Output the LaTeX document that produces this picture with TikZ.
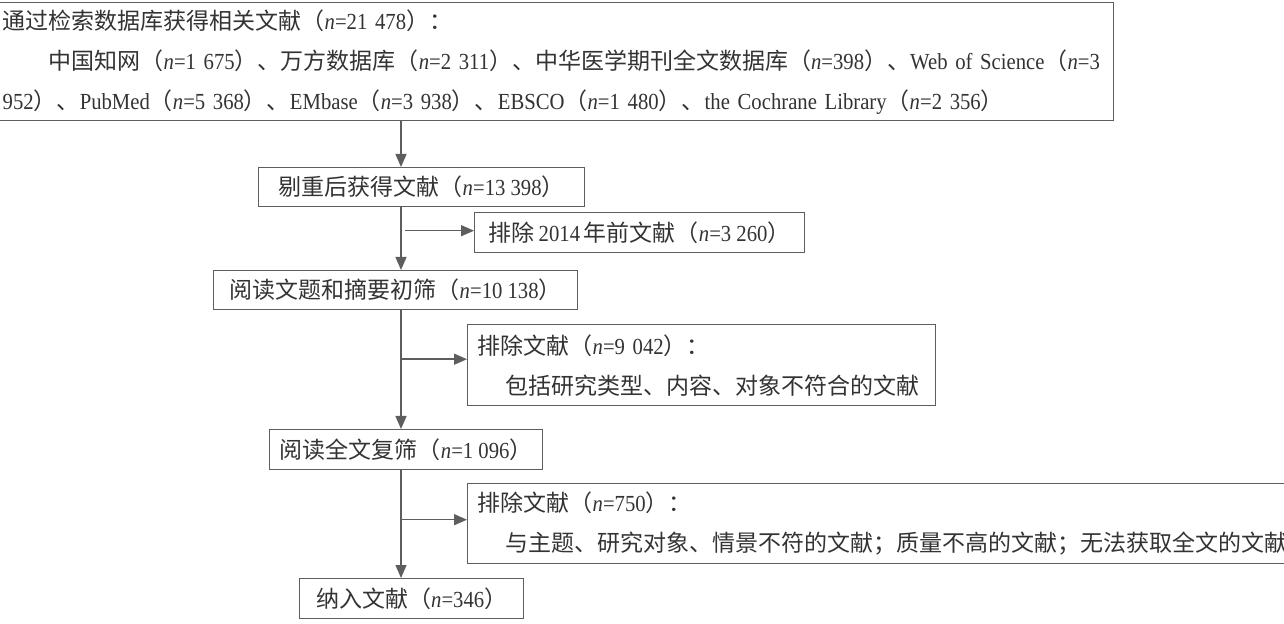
\documentclass[tikz,border=0pt]{standalone}
\usepackage{fontspec}
\setmainfont{Noto Sans CJK SC}
\newfontfamily\latin{Liberation Serif}[FakeStretch=0.9]
\usetikzlibrary{positioning, arrows.meta, calc}

\definecolor{linegray}{HTML}{5E5E5E}
\definecolor{textgray}{HTML}{333333}
\newcommand{\numn}[1]{（{\latin\textit{n}=#1}）}

\tikzset{
  box/.style={rectangle, draw=linegray, line width=0.7pt, anchor=north west, text=textgray,
    inner xsep=5pt, inner ysep=0pt, font=\fontsize{11.5pt}{20pt}\selectfont},
  arr/.style={-{Triangle[length=6.5pt,width=5.5pt]}, draw=linegray, line width=0.7pt}
}

\begin{document}
\begin{tikzpicture}[x=0.5pt, y=-0.5pt]
  \useasboundingbox (0,0) rectangle (1284,624);
  \clip (0,0) rectangle (1284,624);

  % Nodes
  \node[box, minimum height=59pt, text width=550.5pt, align=left] (search) at (-8,2)
    {通过检索数据库获得相关文献\numn{21 478}：\\
     \hspace*{2em}中国知网\numn{1 675}、万方数据库\numn{2 311}、中华医学期刊全文数据库\numn{398}、{\latin Web of Science}（{\latin\textit{n}=3}\\
     {\latin 952}）、{\latin PubMed}\numn{5 368}、{\latin EMbase}\numn{3 938}、{\latin EBSCO}\numn{1 480}、{\latin the Cochrane Library}\numn{2 356}};
  \node[box, minimum width=163pt, minimum height=19.5pt] (dedup) at (258,167) {剔重后获得文献\numn{13 398}};
  \node[box, minimum width=165pt, minimum height=20pt] (before) at (474,212) {排除\,{\latin 2014}\,年前文献\numn{3 260}};
  \node[box, minimum width=182pt, minimum height=19.5pt] (title) at (213,270) {阅读文题和摘要初筛\numn{10 138}};
  \node[box, minimum height=40.5pt, text width=224pt, align=left] (excla) at (467,324)
    {排除文献\numn{9 042}：\\ \hspace*{1.2em}包括研究类型、内容、对象不符合的文献};
  \node[box, minimum width=136.5pt, minimum height=20pt] (full) at (269,429) {阅读全文复筛\numn{1 096}};
  \node[box, minimum height=40pt, text width=440pt, align=left] (exclb) at (467,483)
    {排除文献\numn{750}：\\ \hspace*{1.2em}与主题、研究对象、情景不符的文献；质量不高的文献；无法获取全文的文献};
  \node[box, minimum width=112pt, minimum height=20pt] (incl) at (299,578) {纳入文献\numn{346}};

  % Arrows
  \coordinate (trunk) at (401,0);
  \draw[arr] (trunk |- search.south) -- (trunk |- dedup.north);
  \draw[arr] (trunk |- dedup.south) -- (trunk |- title.north);
  \draw[arr] (trunk |- title.south) -- (trunk |- full.north);
  \draw[arr] (trunk |- full.south) -- (trunk |- incl.north);
  \draw[arr] ([xshift=2pt,yshift=1pt]trunk |- before.west) -- ([yshift=1pt]before.west);
  \draw[arr] ([yshift=3pt]trunk |- excla.west) -- ([yshift=3pt]excla.west);
  \draw[arr] ([yshift=2pt]trunk |- exclb.west) -- ([yshift=2pt]exclb.west);
\end{tikzpicture}
\end{document}
